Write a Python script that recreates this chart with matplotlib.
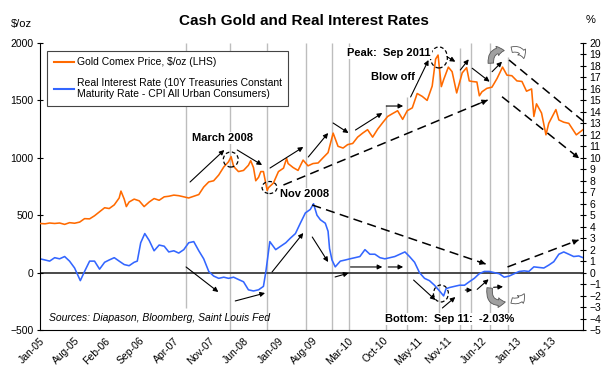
import matplotlib
matplotlib.use("Agg")
import matplotlib.dates as mdates
import matplotlib.pyplot as plt
import numpy as np
import pandas as pd
from matplotlib.lines import Line2D
from matplotlib.patches import Ellipse, FancyArrowPatch

plt.rcParams["font.family"] = ["Liberation Sans", "DejaVu Sans"]

# Gold Comex price, $/oz
gold_dates = [
    "2005-01-01", "2005-02-01", "2005-03-01", "2005-04-01", "2005-05-01", "2005-06-01",
    "2005-07-01", "2005-08-01", "2005-09-01", "2005-10-01", "2005-11-01", "2005-12-01",
    "2006-01-01", "2006-02-01", "2006-03-01", "2006-04-01", "2006-05-01", "2006-05-12",
    "2006-06-01", "2006-06-14", "2006-07-01", "2006-08-01", "2006-09-01", "2006-10-01",
    "2006-11-01", "2006-12-01", "2007-01-01", "2007-02-01", "2007-03-01", "2007-04-01",
    "2007-05-01", "2007-06-01", "2007-07-01", "2007-08-01", "2007-09-01", "2007-10-01",
    "2007-11-01", "2007-12-01", "2008-01-01", "2008-02-01", "2008-03-01", "2008-03-17",
    "2008-04-01", "2008-05-01", "2008-06-01", "2008-07-01", "2008-07-15", "2008-08-01",
    "2008-08-15", "2008-09-01", "2008-09-15", "2008-10-01", "2008-10-24", "2008-11-01",
    "2008-12-01", "2009-01-01", "2009-02-01", "2009-02-20", "2009-03-01", "2009-04-01",
    "2009-05-01", "2009-06-01", "2009-07-01", "2009-08-01", "2009-09-01", "2009-10-01",
    "2009-11-01", "2009-12-02", "2010-01-01", "2010-02-01", "2010-03-01", "2010-04-01",
    "2010-05-01", "2010-06-01", "2010-07-01", "2010-08-01", "2010-09-01", "2010-10-01",
    "2010-11-01", "2010-12-01", "2011-01-01", "2011-02-01", "2011-03-01", "2011-04-01",
    "2011-05-01", "2011-06-01", "2011-07-01", "2011-08-01", "2011-08-22", "2011-09-06",
    "2011-09-26", "2011-10-10", "2011-11-08", "2011-12-01", "2011-12-29", "2012-02-01",
    "2012-02-28", "2012-03-15", "2012-04-01", "2012-05-01", "2012-05-16", "2012-06-01",
    "2012-07-01", "2012-08-01", "2012-09-01", "2012-10-05", "2012-11-01", "2012-12-01",
    "2013-01-01", "2013-02-01", "2013-03-01", "2013-04-01", "2013-04-15", "2013-05-01",
    "2013-06-01", "2013-06-28", "2013-07-15", "2013-08-28", "2013-09-15", "2013-10-15",
    "2013-11-15", "2013-12-31", "2014-02-10",
]
gold_price = [
    428, 425, 432, 428, 432, 420,
    435, 430, 440, 470, 468, 495,
    530, 565, 558, 590, 650, 710,
    640, 575, 615, 640, 625, 575,
    615, 645, 630, 660, 665, 675,
    670, 660, 650, 665, 680, 745,
    790, 800, 850, 920, 965, 1010,
    925, 880, 890, 935, 975, 915,
    800, 830, 880, 880, 715, 740,
    780, 880, 910, 995, 950, 915,
    890, 980, 930, 950, 955, 1000,
    1045, 1215, 1100, 1085, 1115, 1125,
    1180, 1215, 1245, 1180, 1250, 1305,
    1360, 1385, 1410, 1335, 1410, 1435,
    1560, 1535, 1500, 1625, 1860, 1895,
    1620, 1680, 1790, 1750, 1565, 1740,
    1785, 1670, 1665, 1660, 1540, 1575,
    1605, 1615, 1690, 1790, 1720, 1715,
    1670, 1665, 1580, 1600, 1360, 1470,
    1390, 1200, 1300, 1420, 1330, 1310,
    1300, 1200, 1245,
]

# Real interest rate, % (10Y CMT - CPI)
rate_dates = [
    "2005-01-01", "2005-02-01", "2005-03-01", "2005-04-01", "2005-05-01", "2005-06-01",
    "2005-07-01", "2005-08-01", "2005-09-05", "2005-10-01", "2005-11-01", "2005-12-01",
    "2006-01-01", "2006-02-01", "2006-03-01", "2006-04-01", "2006-05-01", "2006-06-01",
    "2006-07-01", "2006-08-01", "2006-08-20", "2006-09-10", "2006-10-05", "2006-11-01",
    "2006-12-01", "2007-01-01", "2007-02-01", "2007-03-01", "2007-04-01", "2007-05-01",
    "2007-06-01", "2007-07-01", "2007-08-01", "2007-09-01", "2007-10-01", "2007-11-01",
    "2007-12-01", "2008-01-01", "2008-02-01", "2008-03-01", "2008-04-01", "2008-05-01",
    "2008-06-01", "2008-07-01", "2008-08-01", "2008-09-01", "2008-10-01", "2008-10-16",
    "2008-11-09", "2008-12-15", "2009-01-15", "2009-02-15", "2009-03-15", "2009-04-15",
    "2009-05-15", "2009-06-15", "2009-07-15", "2009-08-04", "2009-08-25", "2009-09-15",
    "2009-10-15", "2009-11-01", "2009-11-10", "2009-11-25", "2009-12-15", "2010-01-15",
    "2010-02-15", "2010-03-15", "2010-04-15", "2010-05-15", "2010-06-15", "2010-07-15",
    "2010-08-15", "2010-09-15", "2010-10-15", "2010-11-15", "2010-12-15", "2011-01-15",
    "2011-02-15", "2011-03-15", "2011-04-15", "2011-05-15", "2011-06-15", "2011-07-15",
    "2011-08-15", "2011-09-15", "2011-10-10", "2011-10-25", "2011-11-15", "2011-12-15",
    "2012-01-15", "2012-02-15", "2012-03-15", "2012-04-15", "2012-05-15", "2012-06-15",
    "2012-07-15", "2012-08-15", "2012-09-15", "2012-10-15", "2012-11-15", "2012-12-15",
    "2013-01-15", "2013-02-15", "2013-03-15", "2013-04-15", "2013-05-15", "2013-06-15",
    "2013-07-15", "2013-08-15", "2013-09-15", "2013-10-15", "2013-11-15", "2013-12-15",
    "2014-01-15", "2014-02-10",
]
real_rate = [
    1.2, 1.1, 1.0, 1.3, 1.2, 1.4,
    1.0, 0.4, -0.7, 0.1, 1.0, 1.0,
    0.3, 0.9, 1.1, 1.3, 1.0, 0.7,
    0.6, 0.9, 1.0, 2.6, 3.4, 2.8,
    1.9, 2.4, 2.3, 1.8, 1.9, 1.7,
    2.0, 2.6, 2.7, 1.9, 1.2, 0.1,
    -0.3, -0.5, -0.4, -0.5, -0.4, -0.6,
    -0.8, -1.5, -1.6, -1.5, -1.2, 0.1,
    2.7, 2.0, 2.3, 2.6, 3.0, 3.4,
    4.3, 5.2, 5.5, 6.0, 5.0, 4.6,
    4.3, 3.6, 2.1, 1.1, 0.5, 1.0,
    1.1, 1.2, 1.3, 1.4, 2.0, 1.6,
    1.6, 1.3, 1.2, 1.3, 1.4, 1.6,
    1.8, 1.4, 0.9, 0.0, -0.5, -0.7,
    -1.1, -1.6, -2.03, -1.4, -1.3, -1.2,
    -1.1, -1.1, -0.8, -0.5, -0.1, 0.1,
    0.1, 0.0, -0.1, -0.4, -0.3, -0.1,
    0.1, 0.15, 0.1, 0.5, 0.45, 0.4,
    0.65, 0.95, 1.6, 1.8, 1.6, 1.4,
    1.45, 1.3,
]

tick_dates = [
    "2005-01-01", "2005-08-01", "2006-02-01", "2006-09-01", "2007-04-01", "2007-11-01",
    "2008-06-01", "2009-01-01", "2009-08-01", "2010-03-01", "2010-10-01", "2011-05-01",
    "2011-11-01", "2012-06-01", "2013-01-01", "2013-08-01",
]
tick_labels = [
    "Jan-05", "Aug-05", "Feb-06", "Sep-06", "Apr-07", "Nov-07", "Jun-08", "Jan-09",
    "Aug-09", "Mar-10", "Oct-10", "May-11", "Nov-11", "Jun-12", "Jan-13", "Aug-13",
]

# vertical marker lines: date, bottom %, top %
marker_dates = [
    "2007-06-13", "2008-03-10", "2008-10-22", "2009-06-19", "2009-11-25", "2010-03-10",
    "2010-10-22", "2011-02-26", "2011-09-10", "2012-01-19", "2012-03-26", "2012-07-23",
    "2012-11-05",
]
marker_lo = [-3.1, -5, -5, -5, -5, -5, -5, -5, -5, -5, -5, -5, -5]
marker_hi = [20, 20, 20, 20, 20, 20, 14.6, 15.3, 18.0, 19.6, 20, 20, 18.8]

GOLD = "#FF6A00"
BLUE = "#3366FF"
START = pd.Timestamp("2005-01-01")


def mo(m: float) -> float:
    """Months since Jan 2005 -> matplotlib date number."""
    return mdates.date2num(START + pd.Timedelta(days=m * 30.44))


fig = plt.figure(figsize=(6.1, 3.81), dpi=100)
ax2 = fig.add_axes([40 / 610, 1 - 330 / 381, 543 / 610, 287 / 381])
ax = ax2.twinx()
ax.yaxis.tick_left()
ax.yaxis.set_label_position("left")
ax2.yaxis.tick_right()

x_gold = mdates.date2num(pd.to_datetime(gold_dates))
x_rate = mdates.date2num(pd.to_datetime(rate_dates))
x_mark = mdates.date2num(pd.to_datetime(marker_dates))

# back layer (right axis, %)
ax2.vlines(x_mark, marker_lo, marker_hi, color="#bdbdbd", lw=1.0, zorder=1)
ax2.axhline(0, color="#3a3a3a", lw=1.3, zorder=2)
ax2.plot(x_rate, real_rate, color=BLUE, lw=1.15, zorder=3)
ax2.set_ylim(-5, 20)
ax2.set_yticks(np.arange(-5, 21, 1))
ax2.tick_params(axis="y", direction="inout", length=5, labelsize=7.5, pad=2)

# front layer (left axis, $/oz)
ax.plot(x_gold, gold_price, color=GOLD, lw=1.15, zorder=3)
ax.set_ylim(-500, 2000)
ax.set_yticks(np.arange(-500, 2001, 500))
ax.tick_params(axis="y", direction="inout", length=5, labelsize=7.5, pad=2)

xmax = mdates.date2num(pd.Timestamp("2014-02-10"))
ax2.set_xlim(mdates.date2num(START), xmax)
ax2.set_xticks(mdates.date2num(pd.to_datetime(tick_dates)))
ax2.set_xticklabels(tick_labels, rotation=45, ha="right", rotation_mode="anchor", fontsize=7.5)
ax2.tick_params(axis="x", length=0, pad=4)

for a in (ax, ax2):
    a.spines["top"].set_visible(False)
ax.spines["right"].set_visible(False)
ax.spines["bottom"].set_visible(False)
ax2.spines["left"].set_visible(False)

ax.legend(
    [Line2D([], [], color=GOLD, lw=1.5), Line2D([], [], color=BLUE, lw=1.5)],
    ["Gold Comex Price, $/oz (LHS)",
     "Real Interest Rate (10Y Treasuries Constant\nMaturity Rate - CPI All Urban Consumers)"],
    loc="upper left", bbox_to_anchor=(0.004, 0.99), fontsize=7.5, frameon=True,
    fancybox=False, edgecolor="#444444", framealpha=1, handlelength=2.0,
    handletextpad=0.2, labelspacing=1.0, borderpad=0.6,
).get_frame().set_linewidth(0.8)

# solid arrows (months, $/oz)
arrows = [
    (30.2, 789, 37.1, 1068), (39.7, 1068, 44.7, 937), (46.3, 911, 53.0, 1094),
    (54.0, 1007, 58.0, 1216), (59.0, 1303, 62.1, 1216), (63.5, 1242, 68.9, 1390),
    (69.7, 1451, 73.1, 1451), (74.6, 1530, 78.2, 1852), (81.9, 1881, 83.6, 1837),
    (84.6, 1765, 86.3, 1858), (87.0, 1780, 90.5, 1663), (91.0, 1750, 93.0, 1837),
    (29.4, 49, 35.9, -169), (39.3, -247, 45.3, -178), (46.7, 5, 53.0, 345),
    (54.8, 310, 58.0, 92), (59.4, -38, 62.1, -4), (62.5, 49, 68.9, 49),
    (70.1, 49, 73.1, 49), (75.2, -65, 79.6, -239), (81.0, -308, 83.6, -213),
    (85.6, -152, 87.0, -152), (88.0, -146, 90.3, -58), (91.3, -128, 93.2, -123),
]
for m0, v0, m1, v1 in arrows:
    ax.annotate("", xy=(mo(m1), v1), xytext=(mo(m0), v0),
                arrowprops=dict(arrowstyle="-|>", color="black", lw=0.8,
                                mutation_scale=7, shrinkA=0, shrinkB=0), zorder=5)

# dashed trend arrows
dashed = [
    (49.0, 763, 90.1, 1503), (94.4, 1852, 109.5, 1314), (93.0, 1532, 108.5, 996),
    (54.8, 589, 89.7, 75), (94.1, 49, 108.4, 284),
]
for m0, v0, m1, v1 in dashed:
    ax.plot([mo(m0), mo(m1)], [v0, v1], color="black", lw=1.1,
            dashes=(6, 3.5), zorder=5)
    xa = mo(m0) + 0.96 * (mo(m1) - mo(m0))
    ya = v0 + 0.96 * (v1 - v0)
    ax.annotate("", xy=(mo(m1), v1), xytext=(xa, ya),
                arrowprops=dict(arrowstyle="-|>", color="black", lw=0.8,
                                mutation_scale=8, shrinkA=0, shrinkB=0), zorder=5)

# dashed circles
for m, v, w, h in [(38.4, 985, 3.0, 131), (46.2, 741, 3.0, 105),
                   (80.3, 1874, 3.4, 183), (80.7, -182, 3.0, 148)]:
    ax.add_patch(Ellipse((mo(m), v), w * 30.44, h, fill=False, ec="black",
                         lw=0.9, ls=(0, (3, 2)), zorder=6))

# curved arrows
for (m0, v0, m1, v1), fc, rad in [
    ((90.8, 1800, 94.0, 1930), "#a0a0a0", -0.7),
    ((94.4, 1935, 97.4, 1840), "white", -0.7),
    ((90.6, -110, 94.2, -250), "#a0a0a0", 0.8),
    ((94.4, -235, 97.6, -160), "white", 0.6),
]:
    ax.add_patch(FancyArrowPatch((mo(m0), v0), (mo(m1), v1),
                                 connectionstyle=f"arc3,rad={rad}",
                                 arrowstyle="simple,head_width=7,head_length=5,tail_width=4",
                                 fc=fc, ec="#555555", lw=0.6, zorder=6))

box = dict(facecolor="white", edgecolor="none", pad=1.0)
bold = dict(fontsize=8, fontweight="bold", ha="center", va="center", zorder=7)
ax.text(mo(36.7), 1172, "March 2008", bbox=box, **bold)
ax.text(mo(53.3), 685, "Nov 2008", bbox=box, **bold)
ax.text(mo(70.2), 1913, "Peak:  Sep 2011", bbox=box, **bold)
ax.text(mo(71.1), 1704, "Blow off", bbox=box, **bold)
ax.text(mo(82.5), -404, "Bottom:  Sep 11:  -2.03%", bbox=box, **bold)
ax.text(mo(1.8), -396, "Sources: Diapason, Bloomberg, Saint Louis Fed",
        fontsize=7.5, style="italic", ha="left", va="center", zorder=7)

fig.text(304 / 610, 1 - 21 / 381, "Cash Gold and Real Interest Rates",
         fontsize=11, fontweight="bold", ha="center", va="center")
fig.text(21 / 610, 1 - 24 / 381, "$/oz", fontsize=8, ha="center", va="center")
fig.text(591 / 610, 1 - 20 / 381, "%", fontsize=8, ha="center", va="center")

fig.savefig("out.png", dpi=100)
